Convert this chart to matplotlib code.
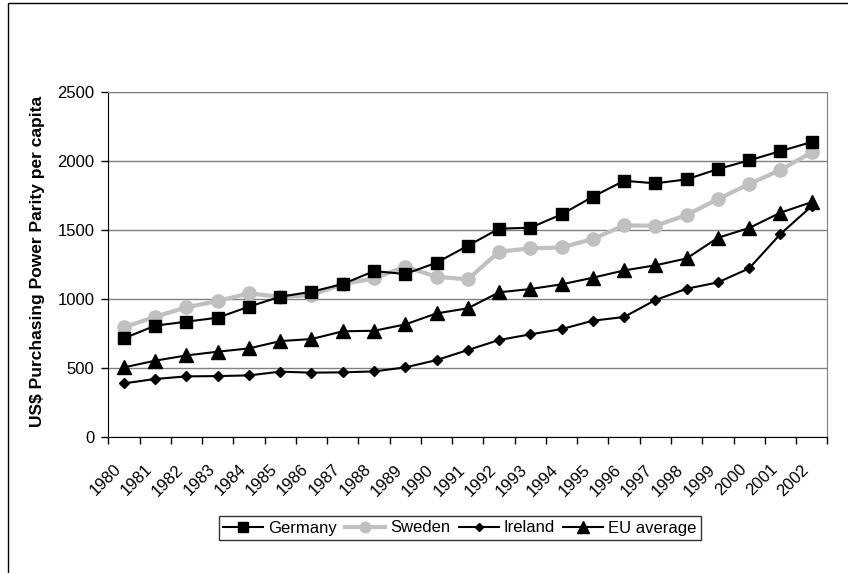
import numpy as np
import matplotlib.pyplot as plt
from matplotlib.patches import Rectangle

plt.rcParams['font.family'] = ['Liberation Sans', 'DejaVu Sans']

#Data
years = [str(y) for y in range(1980, 2003)]
germany = [714, 806, 835, 864, 944, 1016, 1052, 1108, 1202, 1181, 1263, 1386,
           1510, 1517, 1614, 1742, 1858, 1839, 1868, 1943, 2006, 2073, 2139]
sweden = [794, 871, 939, 985, 1040, 1016, 1028, 1108, 1149, 1234, 1161, 1142,
          1343, 1367, 1374, 1435, 1534, 1531, 1609, 1725, 1834, 1936, 2064]
ireland = [387, 419, 438, 440, 445, 472, 465, 467, 474, 503, 556, 629,
           702, 743, 781, 842, 869, 992, 1074, 1120, 1222, 1471, 1674]
eu_avg = [503, 552, 590, 617, 641, 694, 709, 765, 769, 815, 895, 932,
          1048, 1072, 1106, 1154, 1207, 1244, 1294, 1444, 1515, 1626, 1703]

fig = plt.figure(figsize=(8.48, 5.73), dpi=100)
ax = fig.add_axes([108.3/848, 1-436.7/573, 719/848, 344.4/573])

x = np.arange(len(years))
ax.plot(x, germany, color='black', lw=1.5, marker='s', ms=9, label='Germany', zorder=4)
ax.plot(x, sweden, color='#c0c0c0', lw=3, marker='o', ms=9.5, label='Sweden', zorder=3)
ax.plot(x, ireland, color='black', lw=1.5, marker='D', ms=5.5, label='Ireland', zorder=4)
ax.plot(x, eu_avg, color='black', lw=1.5, marker='^', ms=10, label='EU average', zorder=4)

ax.set_xlim(-0.5, len(years) - 0.5)
ax.set_ylim(0, 2500)
ax.set_yticks(np.arange(0, 2501, 500))
ax.yaxis.grid(True, color='#808080', lw=1)
ax.set_axisbelow(True)

ax.set_xticks(x)
ax.set_xticklabels(years, rotation=45, ha='right', va='top')
ax.set_xticks(np.arange(-0.5, len(years)), minor=True)
ax.tick_params(axis='x', which='major', length=0, pad=18, labelsize=12)
ax.tick_params(axis='x', which='minor', length=5, width=1)
ax.tick_params(axis='y', length=5, width=1, pad=5, labelsize=12)

ax.spines['left'].set_color('black')
ax.spines['bottom'].set_color('black')
ax.spines['top'].set_color('#808080')
ax.spines['right'].set_color('#808080')

ax.set_ylabel('US$ Purchasing Power Parity per capita', fontsize=12.5, fontweight='bold')
ax.yaxis.set_label_coords(-0.088, 0.51)

leg = fig.legend(loc='center', bbox_to_anchor=(460/848, 1-528/573), ncol=4,
                 fontsize=12, frameon=True, fancybox=False, edgecolor='black',
                 handlelength=2.4, handletextpad=0.3, columnspacing=0.5,
                 borderpad=0.25, markerscale=0.8)
leg.get_frame().set_linewidth(1)

#outer chart border
fig.add_artist(Rectangle((8/848, -0.1), 2, 1-3/573+0.1, transform=fig.transFigure,
                         fill=False, lw=1, edgecolor='black'))

plt.savefig('out.png', dpi=100)
